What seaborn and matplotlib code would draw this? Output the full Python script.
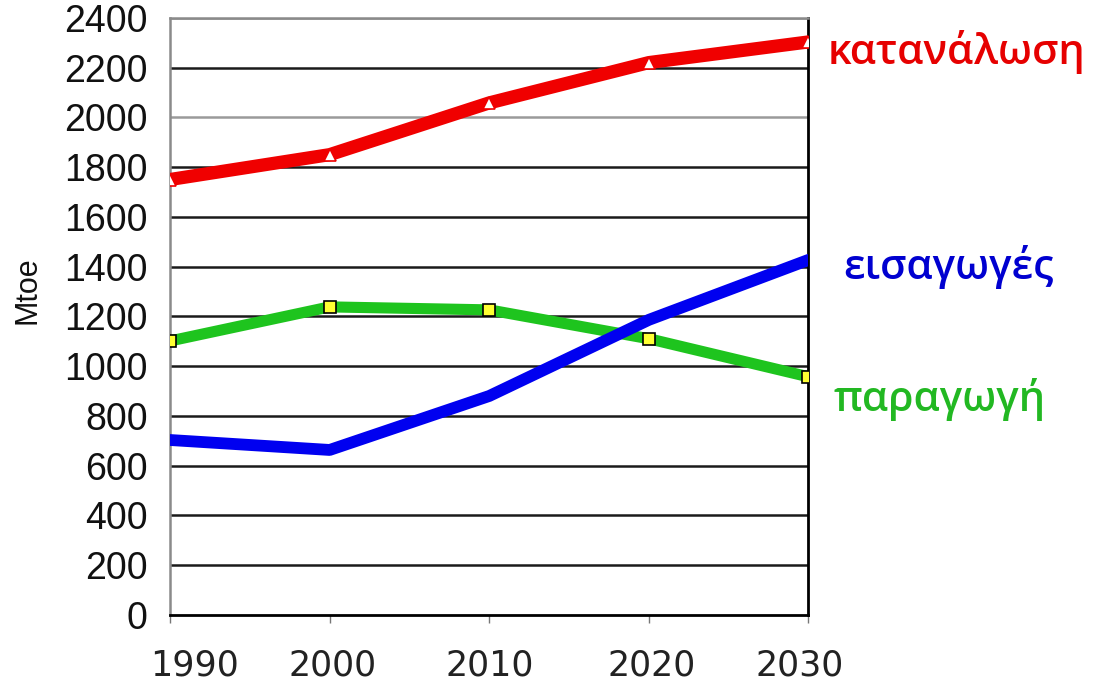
import matplotlib
matplotlib.use("Agg")
import matplotlib.pyplot as plt
import matplotlib.transforms as mtransforms
import seaborn as sns

years = [1990, 2000, 2010, 2020, 2030]
consumption = [1750, 1850, 2058, 2220, 2303]
imports = [703, 663, 880, 1186, 1427]
production = [1101, 1238, 1226, 1110, 957]

y_ticks = list(range(0, 2401, 200))
labels = ["κατανάλωση", "εισαγωγές", "παραγωγή"]

sns.set_theme(style="white")
plt.rcParams["font.family"] = ["Liberation Sans", "DejaVu Sans"]

fig = plt.figure(figsize=(10.97, 6.84), dpi=100)
ax = fig.add_axes([0.155, 0.101, 0.582, 0.873])

# grid lines (a few come out lighter in the original)
for v in y_ticks[1:]:
    col = "#9a9a9a" if v in (2000, 2400) else "#1a1a1a"
    ax.axhline(v, color=col, lw=1.8, zorder=0)

sns.lineplot(x=years, y=production, ax=ax, color="#1ec41e", lw=8,
             marker="s", markersize=9, markerfacecolor="#ffff33",
             markeredgecolor="black", markeredgewidth=1.2, zorder=3)
sns.lineplot(x=years, y=imports, ax=ax, color="#0000f0", lw=8.5, zorder=4)
sns.lineplot(x=years, y=consumption, ax=ax, color="#f00000", lw=9.5,
             marker="^", markersize=9, markerfacecolor="white",
             markeredgecolor="#f00000", markeredgewidth=1.2, zorder=5)

ax.set_xlim(1990, 2030)
ax.set_ylim(0, 2400)
ax.set_xticks(years)
ax.set_yticks(y_ticks)
ax.tick_params(axis="y", labelsize=27, length=0, pad=16, labelcolor="#111111")
ax.tick_params(axis="x", labelsize=25, length=6, width=1, color="#777777",
               direction="out", pad=18, bottom=True, labelcolor="#222222")

# the year labels sit a little off their ticks in the original
x_shift = [24, 3, 0, 3, -9]
for t, dx in zip(ax.get_xticklabels(), x_shift):
    t.set_fontfamily("DejaVu Sans")
    t.set_transform(t.get_transform() +
                    mtransforms.ScaledTranslation(dx / 100, 0, fig.dpi_scale_trans))

ax.set_ylabel("Mtoe", fontsize=22, color="#111111")
ax.yaxis.set_label_coords(-0.2, 0.543)

for side in ["left", "top"]:
    ax.spines[side].set_color("#8a8a8a")
    ax.spines[side].set_linewidth(1.8)
for side in ["right", "bottom"]:
    ax.spines[side].set_color("black")
    ax.spines[side].set_linewidth(2)

label_font = dict(fontsize=30, family="Open Sans", fontweight="semibold",
                  va="center", ha="left", annotation_clip=False,
                  textcoords="offset points")
ax.annotate(labels[0], xy=(years[-1], consumption[-1]), xytext=(14, -7),
            color="#e60000", **label_font)
ax.annotate(labels[1], xy=(years[-1], imports[-1]), xytext=(25, -5),
            color="#0000d0", **label_font)
ax.annotate(labels[2], xy=(years[-1], production[-1]), xytext=(18, -16),
            color="#22b822", **label_font)

fig.savefig("out.png", dpi=100)
